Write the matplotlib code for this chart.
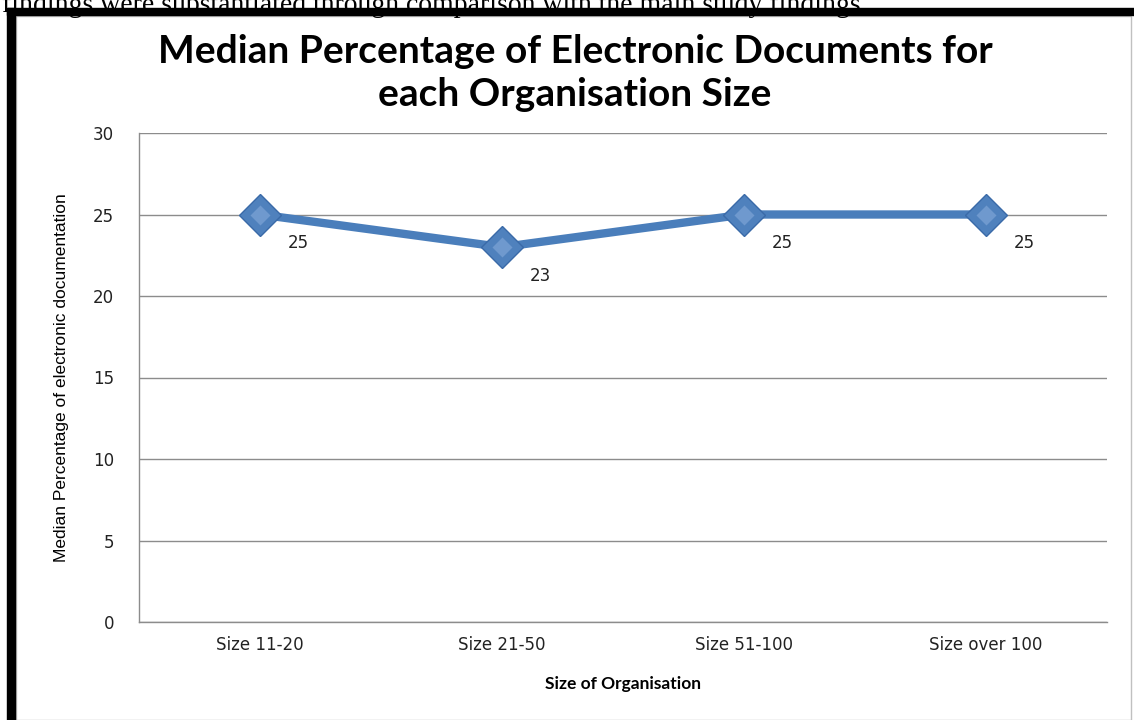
import matplotlib.pyplot as plt
from matplotlib.patches import Rectangle

categories = ["Size 11-20", "Size 21-50", "Size 51-100", "Size over 100"]
median_pct = [25, 23, 25, 25]
y_ticks = [0, 5, 10, 15, 20, 25, 30]

W, H = 1134, 720
fig = plt.figure(figsize=(W / 100, H / 100), dpi=100)

# page text above the chart (cut off at the top like the scan)
fig.text(2 / W, 1 - 5 / H, "findings were substantiated through comparison with the main study findings.",
         family="Liberation Serif", fontsize=20, va="center", ha="left", zorder=1)

# white chart area and black frame
fig.patches.append(Rectangle((16 / W, 0), 1131 / W - 16 / W, 1 - 16 / H, transform=fig.transFigure,
                             facecolor="white", edgecolor="#c0c0c0", lw=1, zorder=-2))
fig.patches.append(Rectangle((7 / W, 0), 8 / W, 1 - 8 / H, transform=fig.transFigure,
                             color="black", zorder=5))
fig.patches.append(Rectangle((7 / W, 1 - 15 / H), 1 - 7 / W, 7 / H, transform=fig.transFigure,
                             color="black", zorder=5))

ax = fig.add_axes([139 / W, 1 - 622 / H, (1107 - 139) / W, (622 - 133) / H])
ax.set_zorder(3)
ax.patch.set_visible(False)
x = list(range(len(categories)))
ax.plot(x, median_pct, color="#4a7ebb", lw=6, solid_capstyle="butt", zorder=3)
ax.plot(x, median_pct, ls="none", marker="D", ms=21, mfc="#4f81bd", mec="#3a6aa8", mew=1, zorder=4)
ax.plot(x, median_pct, ls="none", marker="D", ms=10, mfc="#8fb2df", mec="none", alpha=0.5, zorder=5)
for xi, v in zip(x, median_pct):
    ax.annotate(str(v), (xi, v), xytext=(38, -29), textcoords="offset pixels",
                ha="center", va="center", fontsize=12, family="DejaVu Sans", color="#222222")

ax.set_xlim(-0.5, len(categories) - 0.5)
ax.set_ylim(0, 30)
ax.set_yticks(y_ticks)
ax.set_xticks(x)
ax.set_xticklabels(categories)
ax.tick_params(length=0, labelsize=12, colors="#222222", pad=10)
ax.tick_params(axis="y", pad=18)
ax.grid(axis="y", color="#8c8c8c", lw=1)
ax.set_axisbelow(True)
for s in ["top", "right"]:
    ax.spines[s].set_visible(False)
for s in ["left", "bottom"]:
    ax.spines[s].set_color("#8c8c8c")
    ax.spines[s].set_linewidth(1)

ax.set_xlabel("Size of Organisation", family="Lato", fontweight="bold", fontsize=12.5, labelpad=16)
fig.text(62 / W, 1 - 378 / H, "Median Percentage of electronic documentation", rotation=90,
         family="Liberation Sans", fontsize=12.5, ha="center", va="center")
fig.text(575 / W, 1 - 73 / H, "Median Percentage of Electronic Documents for\neach Organisation Size",
         family="Lato", fontweight="bold", fontsize=28, ha="center", va="center", linespacing=1.25)

fig.savefig("out.png", dpi=100)
